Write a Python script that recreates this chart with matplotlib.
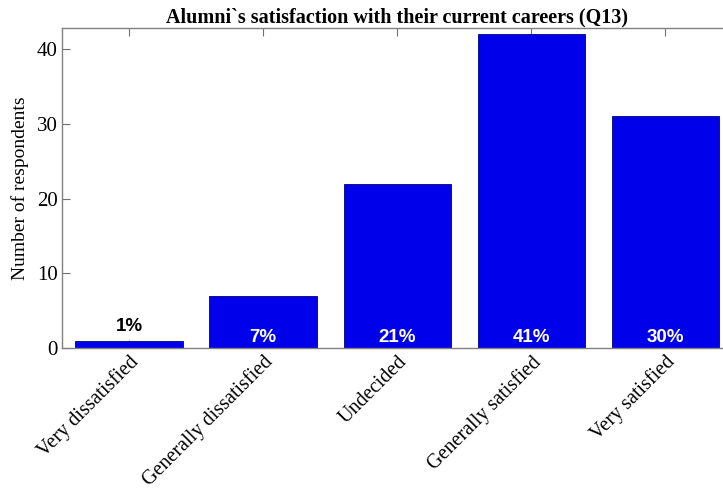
import matplotlib
matplotlib.use("Agg")
import matplotlib.pyplot as plt
import matplotlib.transforms as mtransforms

# data
categories = ["Very dissatisfied", "Generally dissatisfied", "Undecided",
              "Generally satisfied", "Very satisfied"]
counts = [1, 7, 22, 42, 31]
percent_labels = ["1%", "7%", "21%", "41%", "30%"]

fig = plt.figure(figsize=(7.23, 4.93), dpi=100)
ax = fig.add_axes([0.0858, 0.294, 0.927, 0.649])

x = range(1, len(categories) + 1)
ax.bar(x, counts, width=0.8, color="#0000EA", edgecolor="#00007A", linewidth=0.6, zorder=2)

for xi, c, lab in zip(x, counts, percent_labels):
    if c < 3:
        ax.text(xi, c + 1.9, lab, ha="center", va="center", color="black",
                fontsize=13.5, fontweight="bold", family="Liberation Sans", zorder=3)
    else:
        ax.text(xi, 1.4, lab, ha="center", va="center", color="white",
                fontsize=13.5, fontweight="bold", family="Liberation Sans", zorder=3)

ax.set_xlim(0.5, 5.5)
ax.set_ylim(0, 42.8)
ax.set_yticks([0, 10, 20, 30, 40])
ax.set_xticks(list(x))
ax.set_xticklabels(categories, rotation=45, ha="right", rotation_mode="anchor",
                   family="Liberation Serif", fontsize=14.5)
# nudge rotated labels a bit to the right, like the original
shift = mtransforms.ScaledTranslation(10 / 100, -2 / 100, fig.dpi_scale_trans)
for t in ax.get_xticklabels():
    t.set_transform(t.get_transform() + shift)
for t in ax.get_yticklabels():
    t.set_family("Liberation Serif")
    t.set_fontsize(15)

ax.tick_params(axis="both", direction="in", length=6, width=0.8, color="#707070",
               top=True, right=False, pad=3)
for s in ax.spines.values():
    s.set_color("#808080")
    s.set_linewidth(1.0)

ax.set_ylabel("Number of respondents", family="Liberation Serif", fontsize=14, labelpad=6)
ax.set_title("Alumni`s satisfaction with their current careers (Q13)",
             family="Liberation Serif", fontweight="bold", fontsize=14.5, pad=4)

fig.savefig("out.png", dpi=100)
